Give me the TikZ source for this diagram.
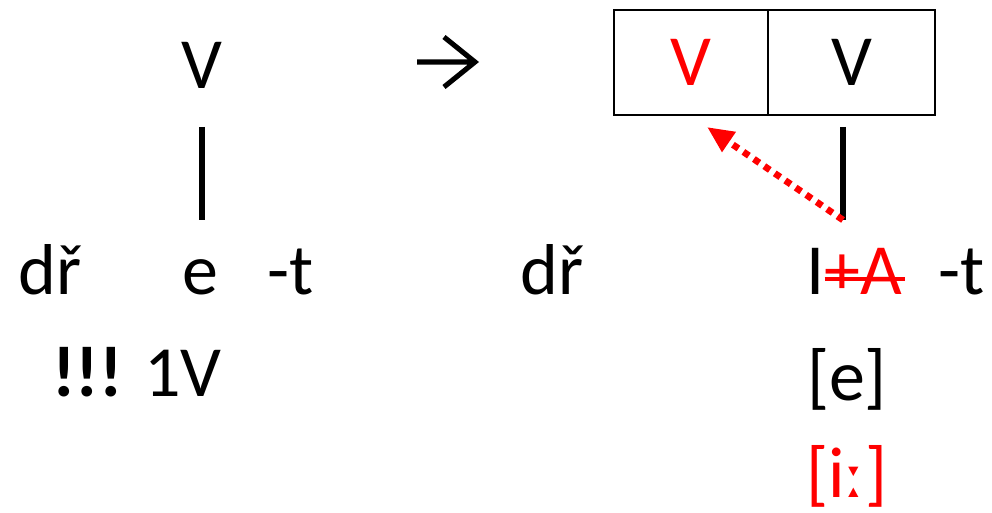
\documentclass[tikz,border=0pt]{standalone}
\usepackage{fontspec}
\setmainfont{Carlito}
\newfontfamily\ipafont{DejaVu Sans}
\usetikzlibrary{arrows.meta}

\begin{document}
\begin{tikzpicture}[x=0.75pt, y=-0.75pt, font=\fontsize{54}{60}\selectfont,
  word/.style={inner sep=0pt, anchor=base},
  cell/.style={draw, line width=2.2pt, inner sep=0pt, outer sep=0pt, minimum height=78.75pt, anchor=north west},
  stem/.style={line width=4.5pt}]
\useasboundingbox (0,0) rectangle (992,513);
\node[word] (vL) at (202,89) {V}; \coordinate (stemLtop) at (202,127); \coordinate (stemLbot) at (202,220); \draw[stem] (stemLtop)--(stemLbot);
\node[word] (drL) at (50,295) {dř}; \node[word] (eL) at (200,295) {e}; \node[word] (tL) at (291,295) {-t};
\node[word] (warn) at (137,396) {\textbf{!!!} 1V};
\coordinate (arrS) at (417,62); \coordinate (arrT) at (475,62); \draw[line width=3.8pt, miter limit=10] (arrS)--(arrT) (444,37)--(arrT)--(444,87);
\node[cell, minimum width=115.5pt, text=red] (slotA) at (614,10) {V}; \node[cell, minimum width=125.25pt] (slotB) at (slotA.north east) {V};
\coordinate (stemRtop) at (843,127); \coordinate (stemRbot) at (843,220); \draw[stem] (stemRtop)--(stemRbot);
\draw[red, line width=5pt, dash pattern=on 5pt off 4.5pt, -{Triangle[length=20pt, width=17pt]}] (stemRbot) -- (707,127);
\node[word] (drR) at (552,295) {dř}; \node[word, anchor=base west] (elemI) at (806,295) {I}; \node[word, anchor=base west, text=red] (elemA) at (elemI.base east) {+A};
\draw[red, line width=3pt] ([yshift=12pt]elemA.base west) -- ([yshift=12pt, xshift=2pt]elemA.base east);
\node[word] (tR) at (962,295) {-t};
\node[word] (phonE) at (847,400) {[e]};
\node[word, text=red] (phonI) at (847,497) {[i{\ipafont\fontsize{44}{50}\selectfont ː}]};
\end{tikzpicture}
\end{document}
